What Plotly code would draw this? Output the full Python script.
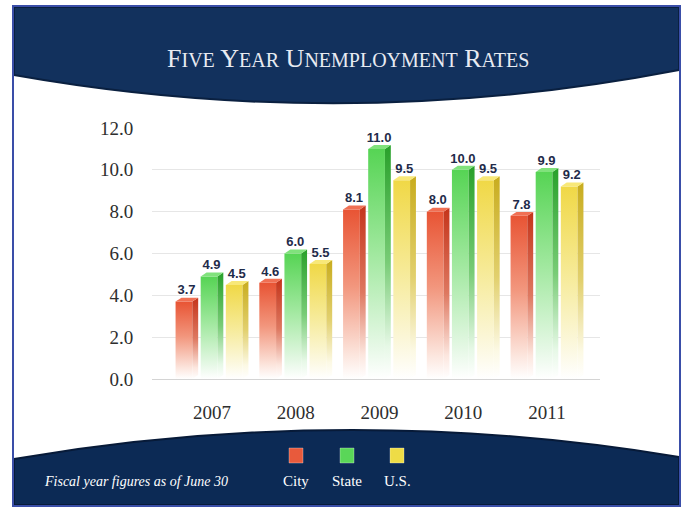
import plotly.graph_objects as go

# ---------------- data ----------------
years = ["2007", "2008", "2009", "2010", "2011"]
series_names = ["City", "State", "U.S."]
city = [3.7, 4.6, 8.1, 8.0, 7.8]
state = [4.9, 6.0, 11.0, 10.0, 9.9]
us = [4.5, 5.5, 9.5, 9.5, 9.2]
y_ticks = [0, 2, 4, 6, 8, 10, 12]

# ---------------- styles ----------------
front_top = ["rgb(232,84,52)", "rgb(86,212,84)", "rgb(240,216,70)"]
front_mid = ["rgb(242,150,125)", "rgb(160,232,158)", "rgb(246,234,150)"]
front_low = ["rgb(252,230,222)", "rgb(230,248,230)", "rgb(252,249,228)"]
side_top = ["rgb(196,52,26)", "rgb(40,160,42)", "rgb(200,172,30)"]
side_mid = ["rgb(222,120,96)", "rgb(120,204,118)", "rgb(226,208,110)"]
cap_col = ["rgb(240,112,84)", "rgb(128,226,124)", "rgb(248,232,120)"]
legend_col = ["rgb(232,90,60)", "rgb(90,214,88)", "rgb(238,220,70)"]

W, H = 682, 508
L, R, T, B = 152, 600, 128, 379   # plot area in pixels
offsets = [-0.30, 0.0, 0.30]
fw, sw, dy = 0.20, 0.07, 0.19

def px(x):
    return (x - L) / (R - L)

def py(y):
    return (B - y) / (B - T)

fig = go.Figure()

values = [city, state, us]
for j, vals in enumerate(values):
    lx, ly, lt = [], [], []
    for i, v in enumerate(vals):
        xc = i + offsets[j]
        xl = xc - (fw + sw) / 2
        xr = xl + fw
        # front face
        fig.add_trace(go.Scatter(
            x=[xl, xr, xr, xl, xl], y=[0, 0, v, v, 0],
            mode="lines", line=dict(width=0), fill="toself",
            fillgradient=dict(type="vertical", start=0, stop=v,
                              colorscale=[[0, "rgb(255,255,255)"], [0.14, front_low[j]],
                                          [0.55, front_mid[j]], [1, front_top[j]]]),
            hoverinfo="skip", showlegend=False))
        # side face
        fig.add_trace(go.Scatter(
            x=[xr, xr + sw, xr + sw, xr, xr], y=[0, dy, v + dy, v, 0],
            mode="lines", line=dict(width=0), fill="toself",
            fillgradient=dict(type="vertical", start=0, stop=v + dy,
                              colorscale=[[0, "rgb(255,255,255)"], [0.14, front_low[j]],
                                          [0.5, side_mid[j]], [1, side_top[j]]]),
            hoverinfo="skip", showlegend=False))
        # top cap
        fig.add_trace(go.Scatter(
            x=[xl, xr, xr + sw, xl + sw, xl], y=[v, v, v + dy, v + dy, v],
            mode="lines", line=dict(width=0), fill="toself", fillcolor=cap_col[j],
            hoverinfo="skip", showlegend=False))
        lx.append(xl + fw / 2 + 0.03)
        ly.append(v + dy)
        lt.append(f"{v:.1f}")
    fig.add_trace(go.Scatter(
        x=lx, y=ly, text=lt, mode="text", textposition="top center",
        textfont=dict(family="Liberation Sans", size=13, color="#1f2b4a", weight="bold"),
        cliponaxis=False, hoverinfo="skip", showlegend=False))

x0 = -(212 - L) / 83.75
x1 = (R - 212) / 83.75

shapes = []
# top band
shapes.append(dict(type="path", xref="paper", yref="paper", layer="below",
    path=(f"M {px(14)},{py(7)} L {px(679)},{py(7)} L {px(679)},{py(70)} "
          f"Q {px(347)},{py(134)} {px(14)},{py(75)} Z"),
    fillcolor="#12315d", line=dict(color="#0a2040", width=2)))
# bottom band
shapes.append(dict(type="path", xref="paper", yref="paper", layer="below",
    path=(f"M {px(14)},{py(459)} Q {px(347)},{py(402)} {px(679)},{py(457)} "
          f"L {px(679)},{py(505)} L {px(14)},{py(505)} Z"),
    fillcolor="#0c2a55", line=dict(color="#071a38", width=2)))
# frame
shapes.append(dict(type="rect", xref="paper", yref="paper", layer="above",
    x0=px(13), x1=px(680), y0=py(6), y1=py(506),
    line=dict(color="#3a4ea8", width=2), fillcolor="rgba(0,0,0,0)"))

annotations = []
sc = "<span style='font-size:20px'>"
title = (f"F{sc}IVE</span> Y{sc}EAR</span> "
         f"U{sc}NEMPLOYMENT</span> R{sc}ATES</span>")
annotations.append(dict(text=title, xref="paper", yref="paper", x=px(348), y=py(58),
    showarrow=False, font=dict(family="Liberation Serif", size=26, color="#e8ebf2"),
    xanchor="center", yanchor="middle"))
annotations.append(dict(text="<i>Fiscal year figures as of June 30</i>", xref="paper", yref="paper",
    x=px(42), y=py(481), showarrow=False, xanchor="left", yanchor="middle",
    font=dict(family="Liberation Serif", size=14, color="#ffffff")))
leg_x = [296, 347, 397]
for k, name in enumerate(series_names):
    annotations.append(dict(text=name, xref="paper", yref="paper", x=px(leg_x[k]), y=py(481),
        showarrow=False, xanchor="center", yanchor="middle",
        font=dict(family="Liberation Serif", size=15, color="#ffffff")))
    shapes.append(dict(type="rect", xref="paper", yref="paper", layer="above",
        x0=px(leg_x[k] - 7), x1=px(leg_x[k] + 7), y0=py(448), y1=py(463),
        fillcolor=legend_col[k], line=dict(color="rgba(255,255,255,0.3)", width=1)))

fig.update_layout(
    width=W, height=H,
    margin=dict(l=L, r=W - R, t=T, b=H - B, pad=0),
    paper_bgcolor="white", plot_bgcolor="white",
    shapes=shapes, annotations=annotations,
    xaxis=dict(range=[x0, x1], tickvals=list(range(len(years))), ticktext=years,
               showgrid=False, zeroline=False, showline=False,
               ticks="outside", ticklen=16, tickcolor="rgba(0,0,0,0)",
               tickfont=dict(family="Liberation Serif", size=19, color="#2e2e2e"),
               fixedrange=True),
    yaxis=dict(range=[0, 12], tickvals=y_ticks, tickformat=".1f",
               showgrid=True, gridcolor="#e6e6e6", gridwidth=1,
               zeroline=True, zerolinecolor="#d4d4d4", zerolinewidth=1,
               showline=False, ticks="outside", ticklen=14, tickcolor="rgba(0,0,0,0)",
               tickfont=dict(family="Liberation Serif", size=19, color="#2e2e2e"),
               fixedrange=True),
)

fig.write_html("out.html", config={"displayModeBar": False})
